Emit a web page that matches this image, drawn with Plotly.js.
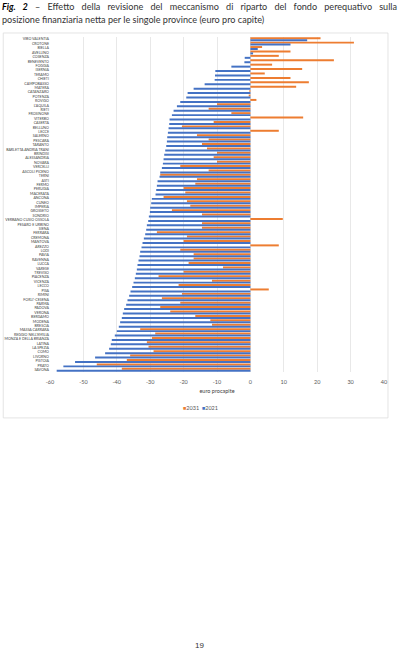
<!DOCTYPE html>
<html>
<head>
<meta charset="utf-8">
<script src="https://cdn.plot.ly/plotly-3.0.1.min.js"></script>
<style>
  html, body { margin:0; padding:0; background:#fff; width:399px; height:654px; overflow:hidden; }
  #chart { position:absolute; left:0; top:0; width:399px; height:654px; }
  #caption { position:absolute; left:2px; top:0px; width:395px; font-family:"Liberation Sans Narrow","Lato",sans-serif; font-size:9.1px; line-height:13px; color:#333; }
  #caption .l1 { text-align:justify; text-align-last:justify; white-space:nowrap; }
  #caption b { color:#000; }
  #page { position:absolute; left:0; width:399px; top:641px; text-align:center; font-family:"Liberation Sans","Lato",sans-serif; font-size:8px; color:#333; }
</style>
</head>
<body>
<div id="chart"></div>
<div id="caption">
  <div class="l1"><b><i>Fig. 2</i></b> – Effetto della revisione del meccanismo di riparto del fondo perequativo sulla</div>
  <div>posizione finanziaria netta per le singole province (euro pro capite)</div>
</div>
<div id="page">19</div>
<script>
const provinces = [
  "VIBO VALENTIA","CROTONE","BIELLA","AVELLINO","COSENZA","BENEVENTO","FOGGIA","ISERNIA","TERAMO","CHIETI",
  "CAMPOBASSO","MATERA","CATANZARO","POTENZA","ROVIGO","L'AQUILA","RIETI","FROSINONE","VITERBO","CASERTA",
  "BELLUNO","LECCE","SALERNO","PESCARA","TARANTO","BARLETTA ANDRIA TRANI","BRINDISI","ALESSANDRIA","NOVARA","VERCELLI",
  "ASCOLI PICENO","TERNI","ASTI","FERMO","PERUGIA","MACERATA","ANCONA","CUNEO","IMPERIA","GROSSETO",
  "SONDRIO","VERBANO CUSIO OSSOLA","PESARO E URBINO","SIENA","FERRARA","CREMONA","MANTOVA","AREZZO","LODI","PAVIA",
  "RAVENNA","LUCCA","VARESE","TREVISO","PIACENZA","VICENZA","LECCO","PISA","RIMINI","FORLI'-CESENA",
  "PARMA","PADOVA","VERONA","BERGAMO","MODENA","BRESCIA","MASSA CARRARA","REGGIO NELL'EMILIA","MONZA E DELLA BRIANZA","LATINA",
  "LA SPEZIA","COMO","LIVORNO","PISTOIA","PRATO","SAVONA"
];

const values2031 = [
  21, 31, 3.5, 12, 8.5, 25, 6.5, 15.5, 4.3, 12,
  17.5, 13.7, -0.3, -0.5, 1.8, -10, -12.5, -5.7, 15.8, -11,
  -20.5, 8.5, -16, -12.5, -14.5, -13, -10, -11, -10, -21,
  -12.5, -27, -16, -16.5, -20, -19.5, -26, -19, -18, -23.5,
  -14.5, 9.7, -14.5, -14.5, -28, -19, -20, 8.5, -21, -17,
  -17, -18.5, -8.2, -20, -27.5, -11.5, -21.5, 5.5, -20.5, -26.5,
  -21, -27, -24, -16.5, -12, -11.5, -33, -28.5, -29.5, -31,
  -30.5, -29, -36, -37, -46, -38.5
];

const values2021 = [
  17, 12, 2.2, 0.8, -1.7, -1.8, -5.7, -10.5, -10.6, -10.7,
  -13.7, -17, -18.8, -19.2, -21, -22, -23, -23.5, -24.2, -24.3,
  -24.5, -24.7, -24.9, -25.0, -25.2, -25.5, -25.8, -26, -26.2, -26.5,
  -27, -27.2, -27.8, -28, -28.2, -28.4, -29.5, -29.7, -30, -30.1,
  -30.4, -30.6, -31.0, -31.2, -31.5, -31.9, -32.3, -32.6, -33.0, -33.2,
  -33.5, -33.8, -34.0, -34.3, -34.6, -35.0, -35.4, -35.9, -36.3, -36.8,
  -37.2, -37.8, -38.2, -38.5, -39.0, -39.4, -40.0, -40.6, -41.5, -41.8,
  -42.3, -43.5, -46.5, -52.5, -56.0, -58.0
];

const seriesNames = ["2031", "2021"];
const seriesColors = ["#ED7D31", "#4472C4"];
const xTicks = [-60, -50, -40, -30, -20, -10, 0, 10, 20, 30, 40];

const traces = [
  { type:"bar", orientation:"h", name:seriesNames[0], y:provinces, x:values2031,
    marker:{color:seriesColors[0]}, hoverinfo:"x+y" },
  { type:"bar", orientation:"h", name:seriesNames[1], y:provinces, x:values2021,
    marker:{color:seriesColors[1]}, hoverinfo:"x+y" }
];

const legendText = seriesNames.map((n,i) =>
  `<span style="color:${seriesColors[i]}">■</span>${n}`).join("  ");

const layout = {
  width:399, height:654,
  margin:{l:50, r:15, t:37, b:282, pad:0},
  paper_bgcolor:"rgba(0,0,0,0)", plot_bgcolor:"#fff",
  barmode:"group", bargap:0.1, bargroupgap:0,
  showlegend:false,
  font:{family:"Liberation Sans Narrow, Lato, sans-serif", color:"#595959"},
  xaxis:{
    range:[-60, 40], tickmode:"array", tickvals:xTicks, ticktext:xTicks.map(String),
    showgrid:true, gridcolor:"#d9d9d9", gridwidth:0.6,
    zeroline:true, zerolinecolor:"#d9d9d9", zerolinewidth:0.8,
    showline:false, ticks:"", ticklabelstandoff:5, tickfont:{size:5.5, color:"#595959"},
    title:{text:"euro procapite", font:{size:5.5, color:"#404040"}, standoff:5},
    fixedrange:true
  },
  yaxis:{
    type:"category", autorange:"reversed",
    tickmode:"array", tickvals:provinces, ticktext:provinces,
    tickfont:{size:3.6, color:"#404040"}, ticks:"", showgrid:false, zeroline:false,
    showline:false, fixedrange:true
  },
  annotations:[
    { xref:"paper", yref:"paper", x:0.452, y:-0.107, xanchor:"center", yanchor:"middle",
      showarrow:false, text:legendText, font:{size:5.5, color:"#595959"} }
  ],
  shapes:[
    { type:"rect", xref:"paper", yref:"paper", x0:-0.14, x1:1.012, y0:-0.137, y1:1.012,
      line:{color:"#d9d9d9", width:0.7}, fillcolor:"rgba(0,0,0,0)", layer:"below" }
  ]
};

Plotly.newPlot("chart", traces, layout, {displayModeBar:false, staticPlot:true});
</script>
</body>
</html>
